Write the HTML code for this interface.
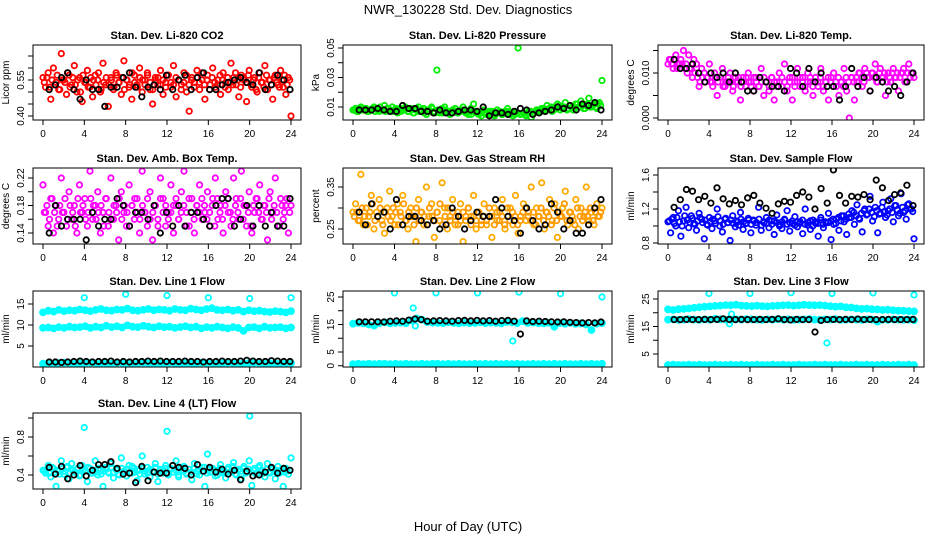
<!DOCTYPE html>
<html><head><meta charset="utf-8"><style>
body{margin:0;background:#fff;}
svg{display:block;font-family:"Liberation Sans",sans-serif;}
</style></head><body>
<svg id="chart" width="936" height="540" viewBox="0 0 936 540">
<rect width="936" height="540" fill="#fff"/>
<text x="468" y="14" text-anchor="middle" font-size="13">NWR_130228  Std. Dev. Diagnostics</text>
<text x="468" y="531" text-anchor="middle" font-size="13">Hour of Day (UTC)</text>
</svg>
<script>
const xTicks=[0,4,8,12,16,20,24];
const co2Red=[0.56,0.52,0.58,0.47,0.60,0.54,0.51,0.66,0.55,0.49,0.57,0.53,0.61,0.50,0.56,0.46,0.54,0.59,0.52,0.48,0.57,0.55,0.50,0.62,0.53,0.44,0.56,0.51,0.58,0.54,0.49,0.63,0.55,0.52,0.47,0.57,0.53,0.60,0.50,0.55,0.58,0.51,0.45,0.56,0.53,0.59,0.49,0.54,0.57,0.52,0.61,0.48,0.55,0.53,0.58,0.50,0.42,0.56,0.54,0.59,0.51,0.55,0.47,0.57,0.53,0.60,0.52,0.55,0.49,0.58,0.54,0.51,0.62,0.56,0.53,0.48,0.57,0.55,0.46,0.59,0.52,0.56,0.50,0.58,0.54,0.61,0.51,0.55,0.47,0.57,0.53,0.59,0.52,0.49,0.56,0.40];
const co2Red2=[0.54,0.56,0.52,0.55,0.53,0.57,0.51,0.55,0.54,0.58,0.52,0.56,0.53,0.55,0.50,0.57,0.54,0.52,0.56,0.55,0.53,0.58,0.51,0.54,0.56,0.53,0.55,0.52,0.57,0.54,0.56,0.51,0.55,0.53,0.58,0.54,0.52,0.56,0.55,0.53,0.57,0.54,0.51,0.55,0.56,0.53,0.55,0.52,0.57,0.54,0.53,0.56,0.55,0.51,0.54,0.57,0.53,0.55,0.52,0.56,0.54,0.58,0.53,0.55,0.51,0.56,0.54,0.53,0.57,0.55,0.52,0.56,0.54,0.53,0.58,0.55,0.52,0.56,0.54,0.57,0.53,0.55,0.51,0.56,0.54,0.52,0.57,0.55,0.53,0.56,0.54,0.52,0.55,0.57,0.53,0.55];
const co2Black=[0.51,0.53,0.56,0.58,0.51,0.47,0.55,0.51,0.51,0.44,0.52,0.52,0.56,0.58,0.52,0.48,0.52,0.53,0.51,0.57,0.51,0.55,0.57,0.51,0.56,0.58,0.51,0.51,0.53,0.54,0.55,0.56,0.54,0.53,0.58,0.51,0.53,0.57,0.55,0.51];
const presGreen=[0.008,0.009,0.007,0.010,0.008,0.009,0.007,0.008,0.010,0.009,0.007,0.008,0.011,0.009,0.007,0.010,0.008,0.006,0.009,0.008,0.010,0.007,0.009,0.006,0.008,0.010,0.007,0.009,0.005,0.008,0.010,0.007,0.035,0.006,0.009,0.010,0.007,0.005,0.008,0.009,0.006,0.008,0.010,0.007,0.005,0.009,0.012,0.007,0.006,0.004,0.008,0.006,0.005,0.007,0.004,0.008,0.006,0.005,0.007,0.009,0.006,0.004,0.007,0.050,0.005,0.006,0.004,0.007,0.003,0.006,0.008,0.007,0.009,0.008,0.011,0.009,0.007,0.010,0.012,0.008,0.010,0.013,0.009,0.011,0.008,0.012,0.010,0.014,0.009,0.011,0.016,0.010,0.012,0.009,0.013,0.028];
const presGreen2=[0.008,0.007,0.009,0.008,0.009,0.007,0.008,0.009,0.007,0.008,0.010,0.008,0.007,0.009,0.008,0.007,0.009,0.008,0.007,0.008,0.009,0.007,0.008,0.006,0.009,0.007,0.008,0.006,0.008,0.007,0.009,0.006,0.008,0.007,0.006,0.008,0.007,0.006,0.008,0.007,0.006,0.007,0.008,0.006,0.007,0.005,0.007,0.006,0.005,0.007,0.006,0.005,0.007,0.006,0.005,0.006,0.007,0.005,0.006,0.007,0.005,0.006,0.005,0.006,0.005,0.006,0.005,0.006,0.007,0.006,0.007,0.008,0.007,0.009,0.008,0.009,0.010,0.008,0.009,0.011,0.009,0.010,0.008,0.011,0.010,0.009,0.012,0.010,0.011,0.009,0.012,0.010,0.011,0.010,0.012,0.011];
const presBlack=[0.008,0.008,0.008,0.009,0.008,0.007,0.007,0.011,0.009,0.009,0.007,0.007,0.006,0.008,0.006,0.006,0.007,0.008,0.008,0.007,0.010,0.004,0.006,0.006,0.005,0.007,0.009,0.008,0.005,0.006,0.007,0.008,0.010,0.009,0.011,0.008,0.012,0.011,0.013,0.008];
const tempMag=[0.012,0.013,0.011,0.014,0.012,0.013,0.015,0.012,0.014,0.011,0.013,0.012,0.007,0.011,0.010,0.009,0.012,0.008,0.010,0.005,0.009,0.011,0.007,0.008,0.010,0.006,0.009,0.008,0.004,0.009,0.007,0.010,0.008,0.006,0.009,0.007,0.011,0.005,0.008,0.006,0.009,0.004,0.008,0.010,0.007,0.012,0.006,0.009,0.004,0.008,0.011,0.007,0.009,0.006,0.010,0.008,0.005,0.009,0.007,0.011,0.006,0.008,0.004,0.009,0.010,0.007,0.005,0.008,0.011,0.006,0.000,0.009,0.004,0.008,0.010,0.007,0.011,0.009,0.006,0.010,0.012,0.008,0.011,0.009,0.005,0.010,0.008,0.011,0.009,0.006,0.010,0.011,0.008,0.012,0.010,0.009];
const tempMag2=[0.013,0.012,0.013,0.011,0.012,0.012,0.011,0.010,0.011,0.009,0.010,0.009,0.008,0.009,0.008,0.009,0.008,0.007,0.009,0.008,0.009,0.007,0.008,0.009,0.008,0.007,0.008,0.009,0.007,0.008,0.009,0.008,0.007,0.009,0.008,0.007,0.008,0.009,0.008,0.007,0.009,0.008,0.007,0.008,0.009,0.008,0.007,0.008,0.009,0.007,0.008,0.009,0.008,0.007,0.008,0.009,0.007,0.008,0.008,0.009,0.007,0.008,0.009,0.008,0.007,0.008,0.009,0.008,0.007,0.009,0.008,0.009,0.008,0.009,0.010,0.009,0.008,0.010,0.009,0.010,0.009,0.008,0.010,0.009,0.010,0.008,0.009,0.010,0.009,0.010,0.009,0.010,0.008,0.010,0.009,0.010];
const tempBlack=[0.013,0.011,0.011,0.012,0.010,0.008,0.010,0.009,0.010,0.008,0.010,0.008,0.006,0.006,0.009,0.008,0.007,0.007,0.006,0.011,0.010,0.007,0.011,0.008,0.010,0.007,0.007,0.004,0.007,0.011,0.007,0.009,0.006,0.009,0.008,0.006,0.007,0.005,0.008,0.010];
const ambMag=[0.21,0.17,0.15,0.19,0.14,0.18,0.16,0.22,0.17,0.15,0.20,0.16,0.18,0.14,0.21,0.17,0.19,0.15,0.23,0.16,0.18,0.20,0.14,0.17,0.19,0.15,0.22,0.16,0.18,0.13,0.20,0.17,0.15,0.21,0.18,0.16,0.19,0.14,0.23,0.17,0.15,0.20,0.13,0.18,0.16,0.22,0.19,0.15,0.17,0.21,0.14,0.18,0.16,0.20,0.23,0.17,0.15,0.19,0.14,0.18,0.21,0.16,0.17,0.20,0.15,0.19,0.22,0.16,0.18,0.14,0.20,0.17,0.15,0.22,0.19,0.16,0.23,0.18,0.15,0.20,0.14,0.17,0.19,0.21,0.16,0.18,0.13,0.20,0.17,0.22,0.15,0.19,0.16,0.18,0.14,0.18];
const ambMag2=[0.17,0.18,0.16,0.19,0.17,0.15,0.18,0.17,0.19,0.16,0.18,0.17,0.15,0.19,0.17,0.18,0.16,0.17,0.19,0.18,0.16,0.17,0.18,0.15,0.19,0.17,0.16,0.18,0.17,0.19,0.16,0.18,0.17,0.15,0.18,0.19,0.17,0.16,0.18,0.17,0.19,0.16,0.17,0.18,0.15,0.19,0.17,0.18,0.16,0.17,0.18,0.19,0.16,0.17,0.18,0.15,0.19,0.17,0.16,0.18,0.17,0.19,0.18,0.16,0.17,0.18,0.15,0.19,0.17,0.16,0.18,0.19,0.17,0.16,0.18,0.17,0.19,0.16,0.18,0.17,0.15,0.18,0.19,0.17,0.16,0.18,0.17,0.19,0.16,0.18,0.17,0.15,0.18,0.17,0.19,0.17];
const ambBlack=[0.14,0.18,0.15,0.16,0.16,0.16,0.13,0.17,0.15,0.16,0.16,0.19,0.18,0.15,0.17,0.17,0.16,0.18,0.14,0.17,0.15,0.18,0.15,0.17,0.17,0.16,0.15,0.18,0.19,0.19,0.15,0.16,0.18,0.15,0.18,0.15,0.17,0.15,0.15,0.19];
const rhOrange=[0.29,0.31,0.27,0.38,0.26,0.30,0.28,0.33,0.25,0.29,0.32,0.27,0.24,0.30,0.34,0.28,0.26,0.31,0.29,0.33,0.27,0.25,0.30,0.28,0.22,0.32,0.29,0.26,0.35,0.28,0.31,0.23,0.29,0.27,0.36,0.30,0.25,0.28,0.32,0.26,0.29,0.31,0.22,0.27,0.30,0.28,0.33,0.25,0.29,0.27,0.31,0.26,0.28,0.23,0.30,0.27,0.29,0.32,0.25,0.28,0.30,0.26,0.33,0.24,0.28,0.31,0.27,0.29,0.35,0.26,0.30,0.28,0.36,0.25,0.29,0.32,0.27,0.31,0.23,0.28,0.30,0.34,0.26,0.29,0.27,0.32,0.25,0.30,0.28,0.35,0.27,0.29,0.26,0.31,0.28,0.30];
const rhOrange2=[0.28,0.29,0.27,0.30,0.28,0.26,0.29,0.31,0.27,0.28,0.30,0.26,0.29,0.28,0.27,0.30,0.29,0.26,0.28,0.31,0.27,0.29,0.28,0.26,0.30,0.27,0.29,0.28,0.26,0.30,0.28,0.27,0.29,0.31,0.26,0.28,0.30,0.27,0.29,0.28,0.26,0.27,0.29,0.28,0.30,0.26,0.28,0.27,0.29,0.26,0.28,0.27,0.30,0.28,0.26,0.29,0.27,0.28,0.26,0.30,0.27,0.29,0.28,0.26,0.27,0.29,0.30,0.28,0.27,0.29,0.26,0.28,0.30,0.27,0.29,0.28,0.26,0.30,0.27,0.29,0.28,0.31,0.27,0.29,0.28,0.26,0.30,0.28,0.27,0.29,0.28,0.30,0.27,0.29,0.28,0.29];
const rhBlack=[0.29,0.26,0.31,0.28,0.29,0.25,0.32,0.26,0.28,0.28,0.27,0.26,0.27,0.25,0.26,0.30,0.28,0.25,0.27,0.29,0.28,0.28,0.32,0.30,0.28,0.27,0.24,0.30,0.27,0.25,0.26,0.31,0.29,0.25,0.27,0.24,0.24,0.26,0.30,0.32];
const flowBlue=[1.05,0.92,1.10,1.00,1.18,0.88,1.06,1.22,0.98,1.12,1.03,0.95,1.15,1.08,0.85,1.02,1.10,0.97,1.06,1.20,1.00,0.93,1.08,1.04,0.83,1.12,0.99,1.05,1.16,0.96,1.03,1.09,0.92,1.07,1.01,1.22,0.95,1.04,1.10,0.98,1.06,0.90,1.13,1.02,0.97,1.08,1.18,0.94,1.03,1.11,0.99,1.05,0.91,1.20,1.01,0.96,1.07,1.03,0.88,1.10,0.98,1.04,1.15,0.84,1.02,1.08,0.95,1.12,1.05,0.90,1.10,1.18,1.02,1.25,1.08,0.93,1.20,1.14,1.35,1.06,1.22,0.92,1.15,1.28,1.10,1.18,1.32,1.05,1.24,1.12,1.38,1.16,1.08,1.26,1.20,0.85];
const flowBlue2=[1.06,1.08,1.03,1.10,1.05,1.00,1.12,1.07,1.04,1.09,1.02,1.06,1.10,1.04,1.07,1.01,1.05,1.08,1.03,1.11,1.06,1.02,1.09,1.04,1.07,1.03,1.06,1.01,1.08,1.05,1.03,1.07,1.02,1.06,1.04,1.08,1.01,1.05,1.03,1.07,1.02,1.06,1.04,1.00,1.05,1.07,1.02,1.04,1.06,1.01,1.05,1.03,1.07,1.02,1.04,1.06,1.00,1.05,1.03,1.07,1.02,1.05,1.04,1.06,1.08,1.03,1.10,1.06,1.12,1.08,1.14,1.10,1.16,1.12,1.09,1.15,1.18,1.13,1.20,1.16,1.11,1.18,1.14,1.22,1.17,1.13,1.20,1.16,1.24,1.19,1.15,1.22,1.18,1.25,1.20,1.17];
const flowBlack=[1.22,1.31,1.43,1.41,1.31,1.35,1.27,1.45,1.32,1.26,1.30,1.25,1.33,1.36,1.27,1.21,1.15,1.26,1.29,1.28,1.36,1.40,1.34,1.20,1.44,1.27,1.66,1.36,1.27,1.35,1.34,1.37,1.31,1.54,1.45,1.30,1.37,1.39,1.48,1.24];
const l1BandA=[13.0,13.4,13.2,13.6,13.3,13.5,13.4,13.7,13.5,13.3,13.6,13.8,13.5,13.4,13.7,13.6,13.9,13.5,13.4,13.6,13.8,13.5,13.7,13.6,13.4,13.8,13.6,13.5,13.9,13.7,13.5,13.8,14.0,13.6,13.5,13.7,13.4,13.6,13.2,13.5,13.3,13.4,13.2,13.1,13.3,13.2,13.0,13.3];
const l1BandB=[9.3,9.4,9.2,9.5,9.3,9.6,9.4,9.5,9.7,9.3,9.6,9.4,9.8,9.5,9.7,9.4,9.9,9.6,9.5,9.8,9.6,9.4,9.7,9.5,9.6,9.3,9.5,9.7,9.4,9.6,9.2,9.5,9.3,9.6,9.4,9.2,9.5,9.3,8.6,9.4,9.5,9.2,9.6,9.3,9.4,9.5,9.2,9.4];
const l1BandC=[0.8,0.9,0.8,0.9,1.0,0.9,0.8,0.9,0.9,1.0,0.8,0.9,0.9,0.8,1.0,0.9,0.9,0.8,0.9,1.0,0.9,0.8,0.9,0.9,1.0,0.9,0.8,0.9,0.9,0.8,1.0,0.9,0.9,0.8,0.9,1.0,0.9,0.8,0.9,0.9,1.0,0.9,0.8,0.9,0.9,0.8,0.9,0.9];
const l1OutHours=[4,8,12,16,20,24];
const l1OutVals=[16.5,17.3,17.0,16.5,16.3,16.5];
const l1Black=[1.2,1.2,1.1,1.2,1.3,1.4,1.3,1.2,1.3,1.3,1.4,1.2,1.3,1.2,1.3,1.3,1.4,1.3,1.4,1.3,1.3,1.3,1.4,1.3,1.3,1.2,1.3,1.3,1.4,1.3,1.3,1.4,1.6,1.4,1.3,1.3,1.5,1.4,1.3,1.3];
const l2BandA=[15.3,15.6,15.4,15.0,14.6,15.5,15.8,15.4,15.6,15.7,15.5,16.5,17.2,16.8,15.9,15.7,15.6,15.5,15.8,15.6,15.4,15.7,15.5,15.6,15.8,15.5,15.7,15.6,15.4,15.9,15.8,15.5,16.2,15.6,15.7,15.5,15.4,15.6,14.2,15.5,15.3,15.6,15.2,15.4,15.0,13.0,15.3,15.5];
const l2BandC=[0.6,0.7,0.6,0.7,0.6,0.7,0.7,0.6,0.7,0.6,0.7,0.6,0.6,0.7,0.6,0.7,0.7,0.6,0.7,0.6,0.7,0.6,0.6,0.7,0.6,0.7,0.6,0.7,0.6,0.7,0.6,0.7,0.6,0.6,0.7,0.6,0.7,0.6,0.7,0.6,0.7,0.6,0.6,0.7,0.6,0.7,0.6,0.7];
const l2OutHours=[4,8,12,16,20,24,5.8,6.0,15.4];
const l2OutVals=[26.5,26.5,26.5,26.8,26.2,25.0,21.0,14.5,9.0];
const l2Black=[16.0,16.0,16.0,16.0,15.9,16.2,16.3,16.2,16.6,17.0,16.8,16.2,16.3,16.4,16.3,16.2,16.4,16.5,16.3,16.5,16.3,16.4,16.2,16.4,16.5,16.2,11.5,16.3,16.1,16.2,16.1,16.0,15.9,16.0,15.8,15.7,15.6,15.7,15.6,15.9];
const l3BandA=[21.2,21.0,21.3,21.4,21.6,21.8,22.0,22.2,22.3,22.5,22.6,22.8,22.7,22.9,22.6,22.5,22.4,22.6,22.4,22.3,22.5,22.6,22.7,22.8,22.6,22.7,22.9,22.8,22.7,22.8,22.6,22.4,22.2,22.3,22.0,21.9,21.6,21.4,21.5,21.3,21.2,21.0,21.1,20.9,20.8,20.7,20.6,20.5];
const l3BandB=[17.5,17.6,17.4,17.5,17.7,17.5,17.4,17.6,17.5,17.8,17.6,17.5,17.4,17.6,17.5,17.7,17.6,17.5,17.4,17.6,17.5,17.7,17.5,17.6,17.4,17.5,17.6,17.7,17.5,17.4,17.6,17.5,17.7,17.4,17.5,17.6,17.5,17.4,17.6,17.5,16.8,17.5,17.4,17.6,17.5,17.4,17.5,17.3];
const l3BandC=[1.0,1.1,1.0,1.0,1.1,1.0,1.1,1.0,1.0,1.1,1.0,1.0,1.1,1.0,1.1,1.0,1.0,1.1,1.0,1.0,1.1,1.0,1.1,1.0,1.0,1.1,1.0,1.0,1.1,1.0,1.1,1.0,1.0,1.1,1.0,1.0,1.1,1.0,1.1,1.0,1.0,1.1,1.0,1.0,1.1,1.0,1.1,1.0];
const l3OutHours=[4,8,12,16,20,24,6.0,6.2,15.5];
const l3OutVals=[27.0,27.0,27.3,27.0,27.2,26.5,16.0,19.5,9.0];
const l3Black=[17.5,17.5,17.6,17.5,17.5,17.6,17.5,17.6,17.8,17.6,17.5,17.6,17.5,17.5,17.6,17.5,17.6,17.8,17.5,17.4,17.6,17.5,17.5,13.0,17.2,17.5,17.6,17.5,17.6,17.5,17.7,17.5,17.6,17.5,17.5,17.6,17.5,17.5,17.5,17.6];
const l4Cyan=[0.45,0.42,0.50,0.38,0.47,0.28,0.44,0.55,0.41,0.48,0.36,0.52,0.43,0.46,0.39,0.50,0.44,0.33,0.47,0.42,0.55,0.40,0.45,0.28,0.48,0.43,0.52,0.37,0.46,0.41,0.58,0.44,0.39,0.50,0.42,0.47,0.34,0.45,0.60,0.41,0.48,0.38,0.44,0.52,0.33,0.46,0.42,0.50,0.40,0.47,0.43,0.55,0.38,0.45,0.49,0.41,0.46,0.35,0.52,0.44,0.40,0.48,0.28,0.62,0.43,0.47,0.39,0.45,0.51,0.42,0.37,0.48,0.44,0.53,0.40,0.46,0.36,0.49,0.43,0.55,0.29,0.47,0.41,0.50,0.44,0.38,0.52,0.42,0.46,0.36,0.49,0.43,0.28,0.47,0.41,0.58];
const l4Cyan2=[0.44,0.46,0.42,0.48,0.43,0.45,0.41,0.47,0.44,0.49,0.42,0.45,0.43,0.47,0.40,0.46,0.44,0.48,0.42,0.45,0.43,0.47,0.41,0.44,0.46,0.42,0.48,0.43,0.45,0.40,0.47,0.44,0.46,0.42,0.49,0.43,0.45,0.41,0.47,0.44,0.42,0.46,0.43,0.48,0.41,0.45,0.44,0.47,0.42,0.46,0.43,0.45,0.40,0.48,0.44,0.42,0.46,0.43,0.47,0.41,0.45,0.44,0.48,0.42,0.46,0.43,0.45,0.40,0.47,0.44,0.42,0.46,0.43,0.49,0.41,0.45,0.44,0.47,0.42,0.46,0.43,0.45,0.41,0.48,0.44,0.42,0.46,0.43,0.47,0.44,0.45,0.42,0.46,0.43,0.44,0.45];
const l4OutHours=[4,12,20];
const l4OutVals=[0.90,0.86,1.02];
const l4Black=[0.48,0.41,0.49,0.36,0.40,0.50,0.39,0.45,0.51,0.51,0.54,0.47,0.41,0.42,0.32,0.49,0.34,0.43,0.42,0.42,0.50,0.48,0.47,0.40,0.51,0.44,0.48,0.43,0.46,0.41,0.45,0.35,0.44,0.39,0.40,0.43,0.48,0.42,0.47,0.45];

const cols=[[33,301],[343,612],[658,924]];
const rows=[[45,120],[168,244],[291,367],[413,489]];
const panels=[
 {name:'co2',title:'Stan. Dev. Li-820 CO2',ylab:'Licor ppm',c:0,r:0,ref:[0.40,116,0.55,80],ticks:[0.40,0.45,0.50,0.55,0.60,0.65],labels:['0.40','0.55'],labVals:[0.40,0.55],
  series:[{v:co2Red,col:'#ff0000'},{v:co2Red2,col:'#ff0000',off:1}],black:co2Black},
 {name:'pressure',title:'Stan. Dev. Li-820 Pressure',ylab:'kPa',c:1,r:0,ref:[0.01,107,0.05,48],ticks:[0.01,0.02,0.03,0.04,0.05],labels:['0.01','0.03','0.05'],labVals:[0.01,0.03,0.05],
  series:[{v:presGreen,col:'#00ee00'},{v:presGreen2,col:'#00ee00',off:1}],black:presBlack},
 {name:'li820-temp',title:'Stan. Dev. Li-820 Temp.',ylab:'degrees C',c:2,r:0,ref:[0,118,0.010,73],ticks:[0,0.005,0.010,0.015],labels:['0.000','0.010'],labVals:[0,0.010],
  series:[{v:tempMag,col:'#ff00ff'},{v:tempMag2,col:'#ff00ff',off:1}],black:tempBlack},
 {name:'amb-box-temp',title:'Stan. Dev. Amb. Box Temp.',ylab:'degrees C',c:0,r:1,ref:[0.14,233,0.22,178],ticks:[0.14,0.16,0.18,0.20,0.22],labels:['0.14','0.18','0.22'],labVals:[0.14,0.18,0.22],
  series:[{v:ambMag,col:'#ff00ff'},{v:ambMag2,col:'#ff00ff',off:1}],black:ambBlack},
 {name:'gas-stream-rh',title:'Stan. Dev. Gas Stream RH',ylab:'percent',c:1,r:1,ref:[0.25,229,0.35,187],ticks:[0.25,0.30,0.35],labels:['0.25','0.35'],labVals:[0.25,0.35],
  series:[{v:rhOrange,col:'#ffaa00'},{v:rhOrange2,col:'#ff9900',off:1}],black:rhBlack},
 {name:'sample-flow',title:'Stan. Dev. Sample Flow',ylab:'ml/min',c:2,r:1,ref:[0.8,243,1.6,175],ticks:[0.8,1.0,1.2,1.4,1.6],labels:['0.8','1.2','1.6'],labVals:[0.8,1.2,1.6],
  series:[{v:flowBlue,col:'#0000ff'},{v:flowBlue2,col:'#0000ff',off:1}],black:flowBlack},
 {name:'line1-flow',title:'Stan. Dev. Line 1 Flow',ylab:'ml/min',c:0,r:2,ref:[5,346,15,304],ticks:[5,10,15],labels:['5','10','15'],labVals:[5,10,15],
  series:[{v:l1BandA,col:'#00ffff',band:1},{v:l1BandB,col:'#00ffff',band:1},{v:l1BandC,col:'#00ffff',band:1}],out:[l1OutHours,l1OutVals],black:l1Black},
 {name:'line2-flow',title:'Stan. Dev. Line 2 Flow',ylab:'ml/min',c:1,r:2,ref:[5,352,25,297],ticks:[0,5,10,15,20,25],labels:['0','5','15','25'],labVals:[0,5,15,25],
  series:[{v:l2BandA,col:'#00ffff',band:1},{v:l2BandC,col:'#00ffff',band:1}],out:[l2OutHours,l2OutVals],black:l2Black},
 {name:'line3-flow',title:'Stan. Dev. Line 3 Flow',ylab:'ml/min',c:2,r:2,ref:[5,354,25,299],ticks:[5,10,15,20,25],labels:['5','15','25'],labVals:[5,15,25],
  series:[{v:l3BandA,col:'#00ffff',band:1},{v:l3BandB,col:'#00ffff',band:1},{v:l3BandC,col:'#00ffff',band:1}],out:[l3OutHours,l3OutVals],black:l3Black},
 {name:'line4-flow',title:'Stan. Dev. Line 4 (LT) Flow',ylab:'ml/min',c:0,r:3,ref:[0.4,475,0.8,437],ticks:[0.4,0.6,0.8,1.0],labels:['0.4','0.8'],labVals:[0.4,0.8],
  series:[{v:l4Cyan,col:'#00ffff'},{v:l4Cyan2,col:'#00ffff',off:1}],out:[l4OutHours,l4OutVals],black:l4Black}
];
const NS='http://www.w3.org/2000/svg';
const svg=document.getElementById('chart');
function mk(tag,attrs,parent){const e=document.createElementNS(NS,tag);for(const k in attrs)e.setAttribute(k,attrs[k]);parent.appendChild(e);return e;}
panels.forEach((p,pi)=>{
  const [L,R]=cols[p.c],[T,B]=rows[p.r];
  const xs=h=>L+10+h*(R-L-20)/24;
  const ys=v=>p.ref[1]+(v-p.ref[0])*(p.ref[3]-p.ref[1])/(p.ref[2]-p.ref[0]);
  const g=mk('g',{},svg);
  
  
  const cp=mk('clipPath',{id:'cp'+pi},g);
  mk('rect',{x:L,y:T,width:R-L,height:B-T},cp);
  const t=mk('text',{x:(L+R)/2,y:T-6,'text-anchor':'middle','font-size':'11','font-weight':'bold'},g);
  t.textContent=p.title;
  
  
  const pts=mk('g',{'clip-path':'url(#cp'+pi+')',fill:'none','stroke-width':'1.8'},g);
  
  
  p.series.forEach(s=>{
    const n=s.v.length;
    s.v.forEach((v,i)=>{
      const h=s.off?(i+0.5)*24/n:(n>1?i*24/(n-1):0);
      const c=mk('circle',{cx:xs(h).toFixed(1),cy:ys(v).toFixed(1),r:s.band?'3':'2.7',stroke:s.col},pts);
      if(s.band){c.setAttribute('fill',s.col);}
      
      
    });
  });
  if(p.out){p.out[0].forEach((h,i)=>{
    const c=mk('circle',{cx:xs(h).toFixed(1),cy:ys(p.out[1][i]).toFixed(1),r:'2.7',stroke:'#00ffff'},pts);
    
    
  });}
  const nb=p.black.length;
  p.black.forEach((v,i)=>{
    const h=0.6+i*23.3/(nb-1);
    const c=mk('circle',{cx:xs(h).toFixed(1),cy:ys(v).toFixed(1),r:'2.7',stroke:'#000'},pts);
    
    
  });
  const box=mk('rect',{x:L,y:T,width:R-L,height:B-T,fill:'none',stroke:'#000','stroke-width':'1'},g);
  
  
  const ax=mk('g',{stroke:'#000','stroke-width':'1'},g);
  
  
  mk('line',{x1:xs(0),x2:xs(24),y1:B,y2:B},ax);
  xTicks.forEach(h=>{
    mk('line',{x1:xs(h),x2:xs(h),y1:B,y2:B+5},ax);
    const tl=mk('text',{x:xs(h),y:B+17,'text-anchor':'middle','font-size':'10',stroke:'none',fill:'#000'},ax);
    tl.textContent=h;
    
    
  });
  const ay=mk('g',{stroke:'#000','stroke-width':'1'},g);
  
  
  mk('line',{x1:L,x2:L,y1:ys(p.ticks[0]),y2:ys(p.ticks[p.ticks.length-1])},ay);
  p.ticks.forEach(v=>{mk('line',{x1:L-5,x2:L,y1:ys(v),y2:ys(v)},ay);});
  p.labVals.forEach((v,i)=>{
    const y=ys(v);
    const tl=mk('text',{x:L-9,y:y,'text-anchor':'middle','font-size':'10',stroke:'none',fill:'#000',transform:'rotate(-90 '+(L-9)+' '+y+')'},ay);
    tl.textContent=p.labels[i];
    
    
  });
  const yt=mk('text',{x:L-24,y:(T+B)/2,'text-anchor':'middle','font-size':'10',transform:'rotate(-90 '+(L-24)+' '+((T+B)/2)+')'},g);
  yt.textContent=p.ylab;
  
  
});
</script>
</body></html>
